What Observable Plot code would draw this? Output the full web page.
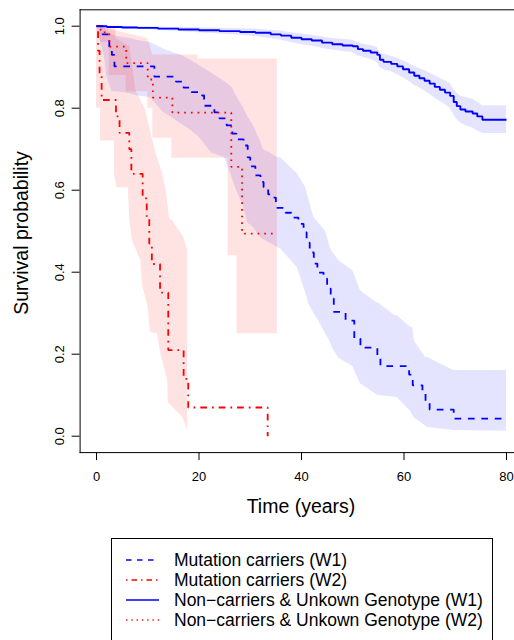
<!DOCTYPE html>
<html>
<head>
<meta charset="utf-8">
<script src="https://cdn.jsdelivr.net/npm/d3@7"></script>
<script src="https://cdn.jsdelivr.net/npm/@observablehq/plot@0.6"></script>
<style>
  body { margin: 0; background: #fff; font-family: "Liberation Sans", Arial, sans-serif; }
  #wrap { position: relative; width: 514px; height: 640px; overflow: hidden; }
  #legend { position: absolute; left: 0; top: 530px; }
</style>
</head>
<body>
<div id="wrap"><div id="chart"></div><svg id="legend" width="514" height="110"></svg></div>
<script>
// ---------- tick labels ----------
const xTicks = [0, 20, 40, 60, 80];
const yTicks = [0, 0.2, 0.4, 0.6, 0.8, 1.0];
const xTitle = "Time (years)";
const yTitle = "Survival probability";

// ---------- legend ----------
const seriesNames = [
  "Mutation carriers (W1)",
  "Mutation carriers (W2)",
  "Non\u2212carriers & Unkown Genotype (W1)",
  "Non\u2212carriers & Unkown Genotype (W2)"
];
const seriesColors = ["#0000ff", "#ff0000", "#0000ff", "#ff0000"];
const seriesDash = ["5.5,5.5", "1.5,4,5.5,4", null, "1.3,4"];

// ---------- Mutation carriers (W1): KM steps ----------
const mutW1_t = [0,1.2,2.5,3.0,3.5,11.3,15.5,17,18.5,20.6,21,23,24,25.4,26.5,27.3,28.7,29.5,30,31,32,32.6,33.5,34,35,36.9,38,39.4,40.4,41,41.6,42.4,43.1,44.3,45,45.7,46.3,48.6,50.3,51.5,54.8,55.4,61,61.7,63.6,64.2,65,69.7,80];
const mutW1_s = [1,0.98,0.95,0.93,0.902,0.877,0.865,0.85,0.839,0.831,0.806,0.79,0.775,0.758,0.738,0.724,0.709,0.68,0.658,0.636,0.62,0.607,0.59,0.582,0.557,0.545,0.533,0.518,0.497,0.472,0.448,0.421,0.399,0.384,0.36,0.336,0.303,0.282,0.238,0.216,0.192,0.171,0.15,0.124,0.107,0.082,0.065,0.043,0.043];
// confidence band
const mutW1_bandT = [0,0.8,1.5,2,3,4,6.6,8,10.5,13,15,16.4,18,20,22.5,25,26.5,27.3,28.7,29.5,30.5,32,32.5,34,35.3,35.9,39.2,40.8,41.4,42.4,43.3,44.7,45.6,46,47.3,50,51.5,54.8,55,58.3,58.7,61.3,61.7,62,64.2,64.6,69.7,80];
const mutW1_up = [1,1,1,0.99,0.98,0.975,0.97,0.965,0.96,0.945,0.935,0.93,0.92,0.905,0.885,0.865,0.85,0.83,0.80,0.78,0.76,0.72,0.70,0.69,0.68,0.68,0.64,0.607,0.58,0.534,0.52,0.50,0.46,0.45,0.428,0.404,0.355,0.325,0.325,0.294,0.294,0.265,0.265,0.233,0.192,0.192,0.16,0.16];
const mutW1_lo = [1,0.96,0.93,0.88,0.84,0.84,0.835,0.83,0.826,0.79,0.775,0.762,0.75,0.73,0.69,0.68,0.63,0.6,0.56,0.52,0.51,0.485,0.48,0.47,0.46,0.457,0.411,0.35,0.323,0.30,0.282,0.25,0.23,0.216,0.19,0.17,0.128,0.10,0.099,0.095,0.094,0.06,0.05,0.045,0.025,0.021,0.014,0.012];

// ---------- Mutation carriers (W2) ----------
const mutW2_t = [0,0.3,0.6,1,3.8,4.5,6.4,6.8,9,9.8,10.3,10.8,12.4,14,17,17.9,33.4];
const mutW2_s = [1,0.94,0.88,0.82,0.78,0.74,0.70,0.64,0.58,0.53,0.47,0.42,0.35,0.21,0.14,0.07,0];
const mutW2_upT = [0,3.8,3.8,6.5,7.7,9.6,10.6,11.6,12.9,13.6,14.3,14.8,17,17.8,17.8];
const mutW2_up  = [1,1,0.97,0.95,0.843,0.795,0.74,0.69,0.64,0.60,0.53,0.526,0.485,0.453,0.014];
const mutW2_loT = [0,0.8,0.8,3.5,3.5,4,6.2,6.5,7,8.6,9,10.1,10.5,11.9,12.5,13.9,14,16.8,17.8];
const mutW2_lo  = [0.80,0.80,0.72,0.72,0.64,0.606,0.606,0.526,0.477,0.43,0.367,0.314,0.253,0.25,0.204,0.136,0.082,0.046,0.014];

// ---------- Non-carriers & unknown (W1) ----------
const nonW1_t = [0,2,5,8,12,16,20,24,28,31,34,36,38,40,42,44,46,48,50,51,52,53.5,54.8,55.3,56,57.5,58.7,59.8,61,62,63,64,65,66,67,68,69,69.7,70.3,71,72,73.4,74.3,75.3,80];
const nonW1_s = [1,0.998,0.997,0.996,0.994,0.992,0.99,0.988,0.986,0.984,0.98,0.977,0.972,0.968,0.965,0.96,0.956,0.953,0.951,0.944,0.94,0.936,0.93,0.918,0.913,0.908,0.902,0.895,0.887,0.879,0.873,0.867,0.86,0.852,0.845,0.838,0.83,0.815,0.805,0.797,0.792,0.787,0.78,0.772,0.772];
const nonW1_up = [1,1,1,0.999,0.998,0.997,0.996,0.995,0.994,0.993,0.99,0.988,0.984,0.981,0.978,0.974,0.97,0.968,0.966,0.96,0.956,0.953,0.948,0.936,0.932,0.927,0.922,0.916,0.909,0.902,0.897,0.892,0.886,0.879,0.873,0.867,0.86,0.846,0.837,0.83,0.826,0.822,0.815,0.806,0.806];
const nonW1_lo = [1,0.996,0.994,0.993,0.99,0.987,0.984,0.981,0.978,0.975,0.97,0.966,0.96,0.955,0.952,0.946,0.942,0.938,0.936,0.928,0.924,0.919,0.912,0.9,0.894,0.889,0.882,0.874,0.865,0.856,0.849,0.842,0.834,0.825,0.817,0.809,0.8,0.784,0.773,0.764,0.758,0.752,0.745,0.738,0.738];

// ---------- Non-carriers & unknown (W2) ----------
const nonW2_t = [0,0.8,2.5,5.8,10,11,14.8,26.3,28.4,34.8];
const nonW2_s = [1,0.985,0.95,0.91,0.87,0.826,0.789,0.657,0.494,0.494];
const nonW2_upT = [0,10,11,19.8,19.8,35.3];
const nonW2_up  = [1,0.97,0.93,0.93,0.92,0.92];
const nonW2_loT = [0,0.8,0.8,2.5,2.5,5.8,5.8,10,10,11,11,14.7,14.7,25.7,25.7,27.4,27.4,35.3];
const nonW2_lo  = [1,1,0.96,0.96,0.88,0.88,0.84,0.84,0.80,0.80,0.727,0.727,0.678,0.678,0.44,0.44,0.25,0.25];

// ---------- helpers ----------
const steps = (t, s) => t.map((d, i) => ({t: d, s: s[i]}));
function band(upT, up, loT, lo) {
  const n = Math.max(upT.length, loT.length);
  return d3.range(n).map(i => {
    const a = Math.min(i, upT.length - 1), b = Math.min(i, loT.length - 1);
    return {tu: upT[a], u: up[a], tl: loT[b], l: lo[b]};
  });
}
const BLUE = "#0000ff", RED = "#ff0000";
const bandOpts = (fill, op) => ({x1: "tl", y1: "l", x2: "tu", y2: "u", fill, fillOpacity: op, curve: "linear"});
const lineOpts = (color, dash, w) => ({x: "t", y: "s", stroke: color, strokeWidth: w, strokeDasharray: dash, curve: "step-after", strokeLinecap: "butt", strokeLinejoin: "miter"});

const W = 514, H = 530;
const chart = Plot.plot({
  width: W, height: H,
  marginLeft: 79.6, marginRight: 0, marginTop: 9.3, marginBottom: H - 452.1,
  x: {domain: [-3.2, 81.56]},
  y: {domain: [-0.04, 1.04]},
  style: {fontFamily: "'Liberation Sans', Arial, sans-serif", fontSize: "13px", color: "#000", background: "#fff"},
  marks: [
    Plot.area(band(mutW1_bandT, mutW1_up, mutW1_bandT, mutW1_lo), bandOpts(BLUE, 0.105)),
    Plot.area(band(nonW2_upT, nonW2_up, nonW2_loT, nonW2_lo), bandOpts(RED, 0.115)),
    Plot.area(band(mutW2_upT, mutW2_up, mutW2_loT, mutW2_lo), bandOpts(RED, 0.115)),
    Plot.area(band(nonW1_t, nonW1_up, nonW1_t, nonW1_lo), bandOpts(BLUE, 0.105)),
    Plot.line(steps(mutW1_t, mutW1_s), lineOpts(BLUE, "6.7,6.7", 1.8)),
    Plot.line(steps(mutW2_t, mutW2_s), lineOpts(RED, "1.7,5,6.7,5", 1.8)),
    Plot.line(steps(nonW2_t, nonW2_s), lineOpts(RED, "1.7,5", 1.8)),
    Plot.line(steps(nonW1_t, nonW1_s), lineOpts(BLUE, null, 1.9)),
    Plot.frame({anchor: "left", stroke: "#000"}),
    Plot.frame({anchor: "top", stroke: "#000"}),
    Plot.frame({anchor: "bottom", stroke: "#000"}),
    Plot.axisX({ticks: xTicks, tickSize: 8, tickPadding: 11.6, fontSize: 13, label: null, tickFormat: d => String(d)}),
    Plot.axisY({ticks: yTicks, tickSize: 8, tickPadding: 8.1, tickRotate: -90, fontSize: 13, label: null, tickFormat: d => d.toFixed(1)})
  ]
});
document.getElementById("chart").appendChild(chart);

// axis titles
const svg = d3.select(chart);
svg.append("text").attr("x", 301).attr("y", 513).attr("text-anchor", "middle")
  .attr("font-size", 19.5).attr("fill", "#000").text(xTitle);
svg.append("text").attr("transform", "translate(27.6,233) rotate(-90)").attr("text-anchor", "middle")
  .attr("font-size", 19.5).attr("fill", "#000").text(yTitle);

// legend
const lg = d3.select("#legend").style("font-family", "'Liberation Sans', Arial, sans-serif");
lg.append("rect").attr("x", 111.5).attr("y", 8.5).attr("width", 381).attr("height", 140)
  .attr("fill", "none").attr("stroke", "#000").attr("stroke-width", 1);
seriesNames.forEach((name, i) => {
  const yc = 30 + i * 20;
  lg.append("line").attr("x1", 126).attr("x2", 159).attr("y1", yc).attr("y2", yc)
    .attr("stroke", seriesColors[i]).attr("stroke-width", 1.3)
    .attr("stroke-dasharray", seriesDash[i]);
  lg.append("text").attr("x", 174).attr("y", yc + 6.3).attr("font-size", 17.5).attr("fill", "#000").text(name);
});
</script>
</body>
</html>
